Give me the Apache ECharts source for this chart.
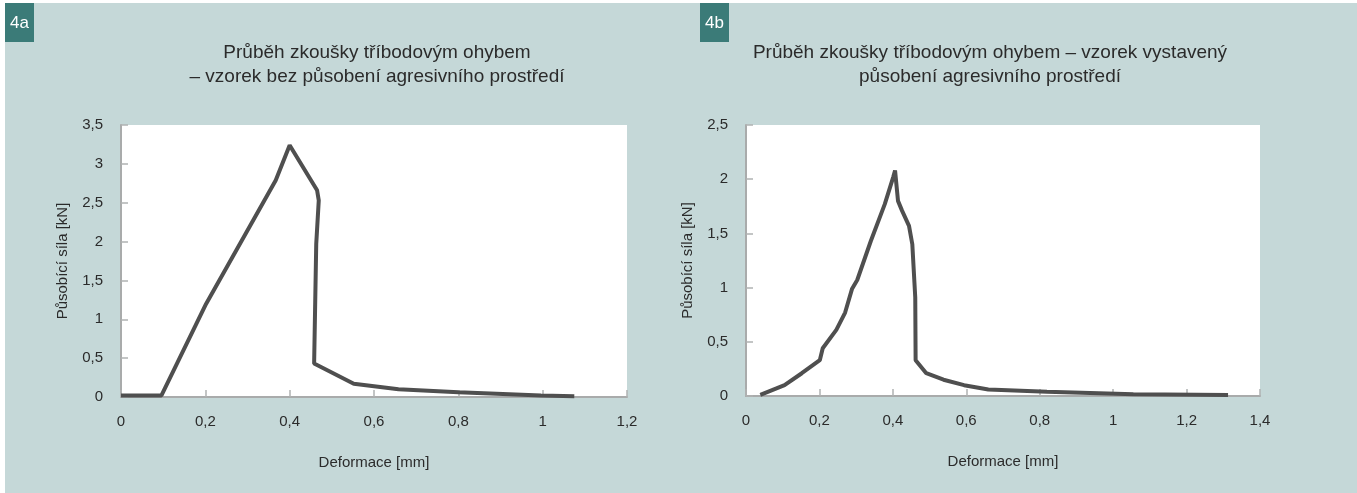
<!DOCTYPE html>
<html>
<head>
<meta charset="utf-8">
<script src="https://cdn.jsdelivr.net/npm/echarts@6/dist/echarts.min.js"></script>
<style>
  html, body { margin: 0; padding: 0; background: #fff; }
  #chart-box { width: 1357px; height: 493px; }
</style>
</head>
<body>
<div id="chart-box"></div>
<script>
// 4a - vzorek bez působení agresivního prostředí [deformace mm, síla kN]
var curveA = [
    [0, 0.02], [0.096, 0.02], [0.202, 1.2], [0.367, 2.79], [0.40, 3.24],
    [0.465, 2.66], [0.469, 2.53], [0.463, 1.97], [0.458, 0.43], [0.552, 0.17],
    [0.658, 0.10], [0.80, 0.06], [0.996, 0.02], [1.075, 0.01]
];
// 4b - vzorek vystavený působení agresivního prostředí
var curveB = [
    [0.039, 0.01], [0.105, 0.10], [0.152, 0.21], [0.201, 0.33], [0.209, 0.44],
    [0.246, 0.61], [0.270, 0.77], [0.289, 0.99], [0.303, 1.07], [0.340, 1.43],
    [0.378, 1.77], [0.401, 2.02], [0.406, 2.08], [0.411, 2.08], [0.414, 1.80],
    [0.425, 1.71], [0.444, 1.57], [0.453, 1.40], [0.461, 0.91], [0.462, 0.33],
    [0.491, 0.21], [0.538, 0.15], [0.594, 0.10], [0.660, 0.06], [0.820, 0.04],
    [1.055, 0.015], [1.313, 0.01]
];
var xTicksA = [0, 1.2, 0.2];   // min, max, interval
var yTicksA = [0, 3.5, 0.5];
var xTicksB = [0, 1.4, 0.2];
var yTicksB = [0, 2.5, 0.5];

var titleA = 'Průběh zkoušky tříbodovým ohybem\n– vzorek bez působení agresivního prostředí';
var titleB = 'Průběh zkoušky tříbodovým ohybem – vzorek vystavený\npůsobení agresivního prostředí';
var xName = 'Deformace [mm]';
var yName = 'Působící síla [kN]';

var FONT = 'Liberation Sans';
var TEXT = '#2b2b2b';

function comma(v) {
    return String(Math.round(v * 10) / 10).replace('.', ',');
}

function makeX(idx, t) {
    return {
        type: 'value', gridIndex: idx, min: t[0], max: t[1], interval: t[2],
        name: xName, nameLocation: 'middle', nameGap: 58,
        nameTextStyle: { color: TEXT, fontSize: 15, fontFamily: FONT },
        axisLine: { lineStyle: { color: '#a9abab', width: 2 } },
        axisTick: { inside: true, length: 7, lineStyle: { color: '#b0b2b2', width: 1.5 } },
        axisLabel: { margin: 17, color: TEXT, fontSize: 15, fontFamily: FONT, formatter: comma },
        splitLine: { show: false }
    };
}

function makeY(idx, t) {
    return {
        type: 'value', gridIndex: idx, min: t[0], max: t[1], interval: t[2],
        name: yName, nameLocation: 'middle', nameGap: 51, nameRotate: 90,
        nameTextStyle: { color: TEXT, fontSize: 15, fontFamily: FONT },
        axisLine: { show: true, lineStyle: { color: '#a9abab', width: 2 } },
        axisTick: { show: true, inside: true, length: 7, lineStyle: { color: '#b0b2b2', width: 1.5 } },
        axisLabel: { margin: 18, color: TEXT, fontSize: 15, fontFamily: FONT, formatter: comma },
        splitLine: { show: false }
    };
}

function badge(x, label) {
    return {
        type: 'group', left: x, top: 3,
        children: [
            { type: 'rect', shape: { x: 0, y: 0, width: 29, height: 39 }, style: { fill: '#3b7b78' } },
            { type: 'text', x: 14.5, y: 20, style: { text: label, fill: '#fff', font: '17px "' + FONT + '"', align: 'center', verticalAlign: 'middle' } }
        ]
    };
}

var chartDom = document.getElementById('chart-box');
var myChart = echarts.init(chartDom);
var option;

option = {
    animation: false,
    backgroundColor: '#fff',
    graphic: [
        { type: 'rect', z: -10, left: 5, top: 3, shape: { width: 1352, height: 490 }, style: { fill: '#c5d8d8' } },
        badge(5, '4a'),
        badge(700, '4b')
    ],
    title: [
        {
            text: titleA, left: 372, top: 36, textAlign: 'center',
            textStyle: { color: TEXT, fontSize: 19, fontWeight: 'normal', fontFamily: FONT, lineHeight: 24 }
        },
        {
            text: titleB, left: 985, top: 36, textAlign: 'center',
            textStyle: { color: TEXT, fontSize: 19, fontWeight: 'normal', fontFamily: FONT, lineHeight: 24 }
        }
    ],
    grid: [
        { left: 121, right: 730, top: 125, bottom: 96, show: true, backgroundColor: '#fff', borderWidth: 0 },
        { left: 746, right: 97, top: 125, bottom: 97, show: true, backgroundColor: '#fff', borderWidth: 0 }
    ],
    xAxis: [makeX(0, xTicksA), makeX(1, xTicksB)],
    yAxis: [makeY(0, yTicksA), makeY(1, yTicksB)],
    series: [
        {
            type: 'line', xAxisIndex: 0, yAxisIndex: 0, data: curveA,
            showSymbol: false, smooth: false,
            lineStyle: { color: '#4f4f4f', width: 4 }
        },
        {
            type: 'line', xAxisIndex: 1, yAxisIndex: 1, data: curveB,
            showSymbol: false, smooth: false,
            lineStyle: { color: '#4f4f4f', width: 4 }
        }
    ]
};

option && myChart.setOption(option);
</script>
</body>
</html>
